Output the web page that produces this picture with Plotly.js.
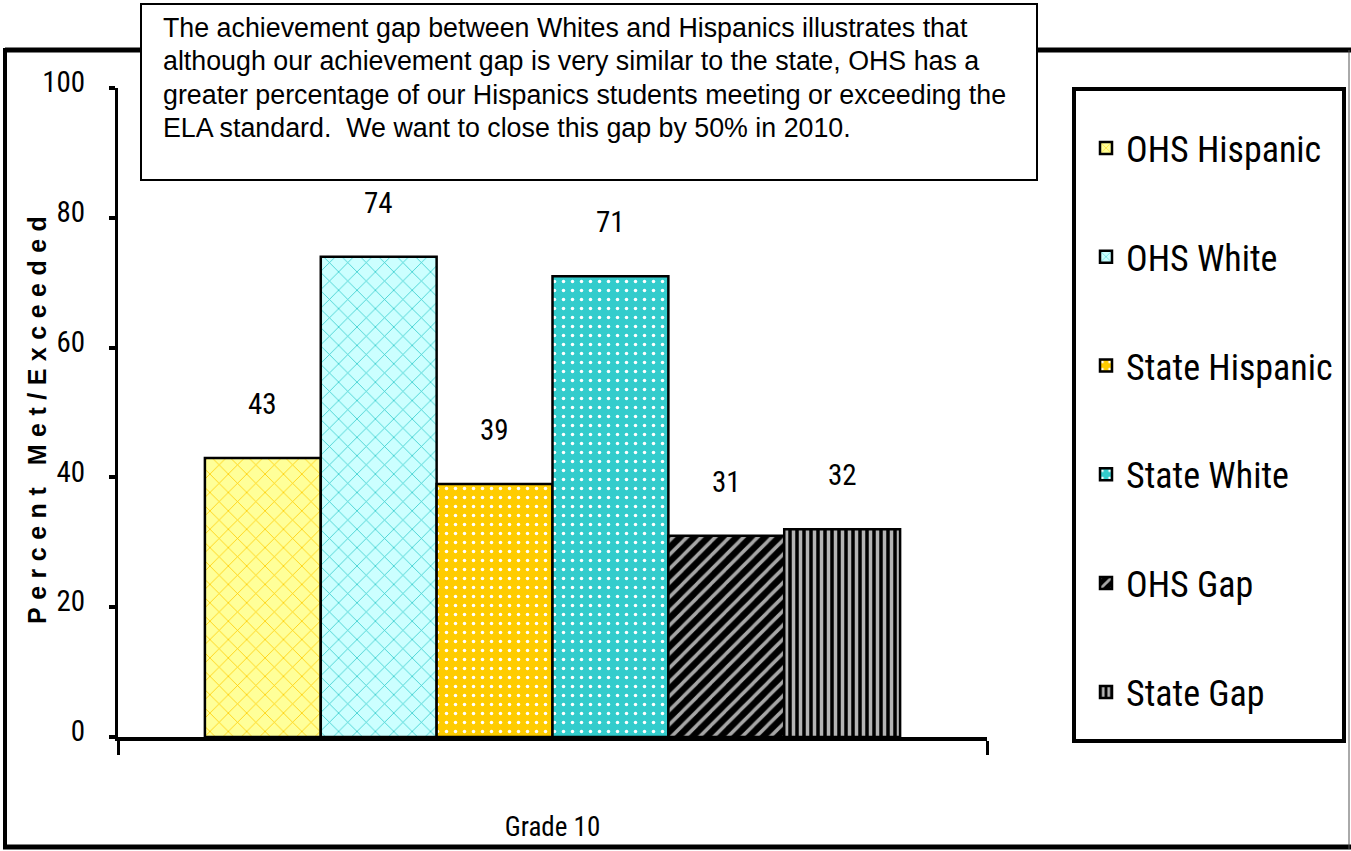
<!DOCTYPE html>
<html>
<head>
<meta charset="utf-8">
<script src="https://cdn.plot.ly/plotly-3.0.1.min.js"></script>
<style>
  html, body { margin: 0; padding: 0; background: #ffffff; }
  #chart { width: 1351px; height: 851px; }
  .annotation[data-index="0"] text { letter-spacing: 7.5px; }
</style>
</head>
<body>
<div id="chart"></div>
<script>
// ---- data ----
const categories = ['Grade 10'];
const seriesNames = ['OHS Hispanic', 'OHS White', 'State Hispanic', 'State White', 'OHS Gap', 'State Gap'];
const seriesValues = [43, 74, 39, 71, 31, 32];
const yTickValues = [0, 20, 40, 60, 80, 100];
const yAxisTitle = 'Percent Met/Exceeded';
const noteLines = [
  'The achievement gap between Whites and Hispanics illustrates that',
  'although our achievement gap is very similar to the state, OHS has a',
  'greater percentage of our Hispanics students meeting or exceeding the',
  'ELA standard.  We want to close this gap by 50% in 2010.'
];

// ---- styles ----
const bgColors = ['#FFFF99', '#CCFFFF', '#FFCC00', '#33CCCC', '#000000', '#000000'];
const fgColors = ['#FFCC00', '#33CCCC', '#FFFFFF', '#FFFFFF', '#A6A6A6', '#B4B4B4'];
const shapesP  = ['x', 'x', '.', '.', '/', '|'];
const sizesP   = [13, 13, 9, 9, 10, 7];
const solidP   = [0.12, 0.12, 0.12, 0.12, 0.35, 0.5];

const NARROW = '"Roboto Condensed", "Liberation Sans Narrow", sans-serif';
const SANS = '"Liberation Sans", Arial, sans-serif';

// plot area in pixels
const W = 1351, H = 851;
const L = 118, R = 987, T = 88, B = 737;
const px = x => (x - L) / (R - L);
const py = y => (B - y) / (B - T);

const bargap = 0.2;
const n = seriesNames.length;

const traces = seriesNames.map((name, i) => ({
  type: 'bar',
  name: name,
  legendgroup: 'g' + i,
  x: categories,
  y: [seriesValues[i]],
  marker: {
    color: bgColors[i],
    line: { color: '#000000', width: 2.5 },
    pattern: {
      shape: shapesP[i],
      bgcolor: bgColors[i],
      fgcolor: fgColors[i],
      fillmode: 'replace',
      size: sizesP[i],
      solidity: solidP[i]
    }
  },
  hoverinfo: 'name+y'
}));

// y axis title (as annotation so it can sit exactly where the reference has it)
const titleAnn = {
  xref: 'paper', yref: 'paper',
  x: px(37), y: py(417),
  xanchor: 'center', yanchor: 'middle',
  textangle: -90,
  text: yAxisTitle,
  showarrow: false,
  font: { family: SANS, size: 25, weight: 'bold', color: '#000000' }
};

// data labels above bars (positions through axis scale)
const slot = (1 - bargap) / n;
const labelAnns = seriesValues.map((v, i) => ({
  xref: 'x', yref: 'y',
  x: -0.5 + bargap / 2 + slot * (i + 0.5),
  y: v,
  yshift: 54,
  text: String(v),
  showarrow: false,
  font: { family: NARROW, size: 29, color: '#000000' }
}));

const noteCenters = [28, 61, 95, 128];
const noteAnns = noteLines.map((t, i) => ({
  xref: 'paper', yref: 'paper',
  x: px(161), y: py(noteCenters[i]),
  xanchor: 'left', yanchor: 'middle',
  text: t,
  showarrow: false,
  font: { family: SANS, size: 26.8, color: '#000000' }
}));

const shapes = [
  // outer frame
  { type: 'line', xref: 'paper', yref: 'paper', x0: px(5), x1: px(1351), y0: py(50), y1: py(50), line: { color: '#000', width: 5 } },
  { type: 'line', xref: 'paper', yref: 'paper', x0: px(5), x1: px(5), y0: py(48), y1: py(849), line: { color: '#000', width: 4 } },
  { type: 'line', xref: 'paper', yref: 'paper', x0: px(3), x1: px(1351), y0: py(847), y1: py(847), line: { color: '#000', width: 5 } },
  { type: 'line', xref: 'paper', yref: 'paper', x0: px(1349), x1: px(1349), y0: py(50), y1: py(849), line: { color: '#555', width: 1 } },
  // text box
  { type: 'rect', xref: 'paper', yref: 'paper', x0: px(141), x1: px(1037), y0: py(4), y1: py(180), fillcolor: '#FFFFFF', line: { color: '#000', width: 2 } },
  // legend box
  { type: 'rect', xref: 'paper', yref: 'paper', x0: px(1074), x1: px(1344), y0: py(89), y1: py(741), fillcolor: 'rgba(0,0,0,0)', line: { color: '#000', width: 4 } }
];

const layout = {
  width: W, height: H,
  paper_bgcolor: '#FFFFFF', plot_bgcolor: '#FFFFFF',
  margin: { l: L, r: W - R, t: T, b: H - B, pad: 0 },
  barmode: 'group',
  bargap: bargap,
  bargroupgap: 0,
  showlegend: true,
  legend: {
    x: px(1086), y: py(118), xanchor: 'left', yanchor: 'top',
    bgcolor: 'rgba(0,0,0,0)', borderwidth: 0,
    font: { family: NARROW, size: 36, color: '#000000' },
    tracegroupgap: 59,
    traceorder: 'grouped'
  },
  xaxis: {
    type: 'category',
    showline: true, linecolor: '#000', linewidth: 4,
    ticks: 'outside', tickson: 'boundaries', ticklen: 14, tickwidth: 3, tickcolor: '#000',
    showgrid: false, zeroline: false,
    tickfont: { family: NARROW, size: 27, color: '#000' },
    ticklabelstandoff: 63,
    fixedrange: true
  },
  yaxis: {
    range: [0, 100],
    tickvals: yTickValues,
    ticktext: yTickValues.map(String),
    showline: true, linecolor: '#000', linewidth: 3,
    ticks: 'outside', ticklen: 6, tickwidth: 4, tickcolor: '#000',
    showgrid: false, zeroline: false,
    tickfont: { family: NARROW, size: 29, color: '#000' },
    ticklabelstandoff: 18,
    ticklabelshift: -6,
    fixedrange: true
  },
  shapes: shapes,
  annotations: [titleAnn].concat(labelAnns, noteAnns)
};

Plotly.newPlot('chart', traces, layout, { displayModeBar: false, staticPlot: true });
</script>
</body>
</html>
